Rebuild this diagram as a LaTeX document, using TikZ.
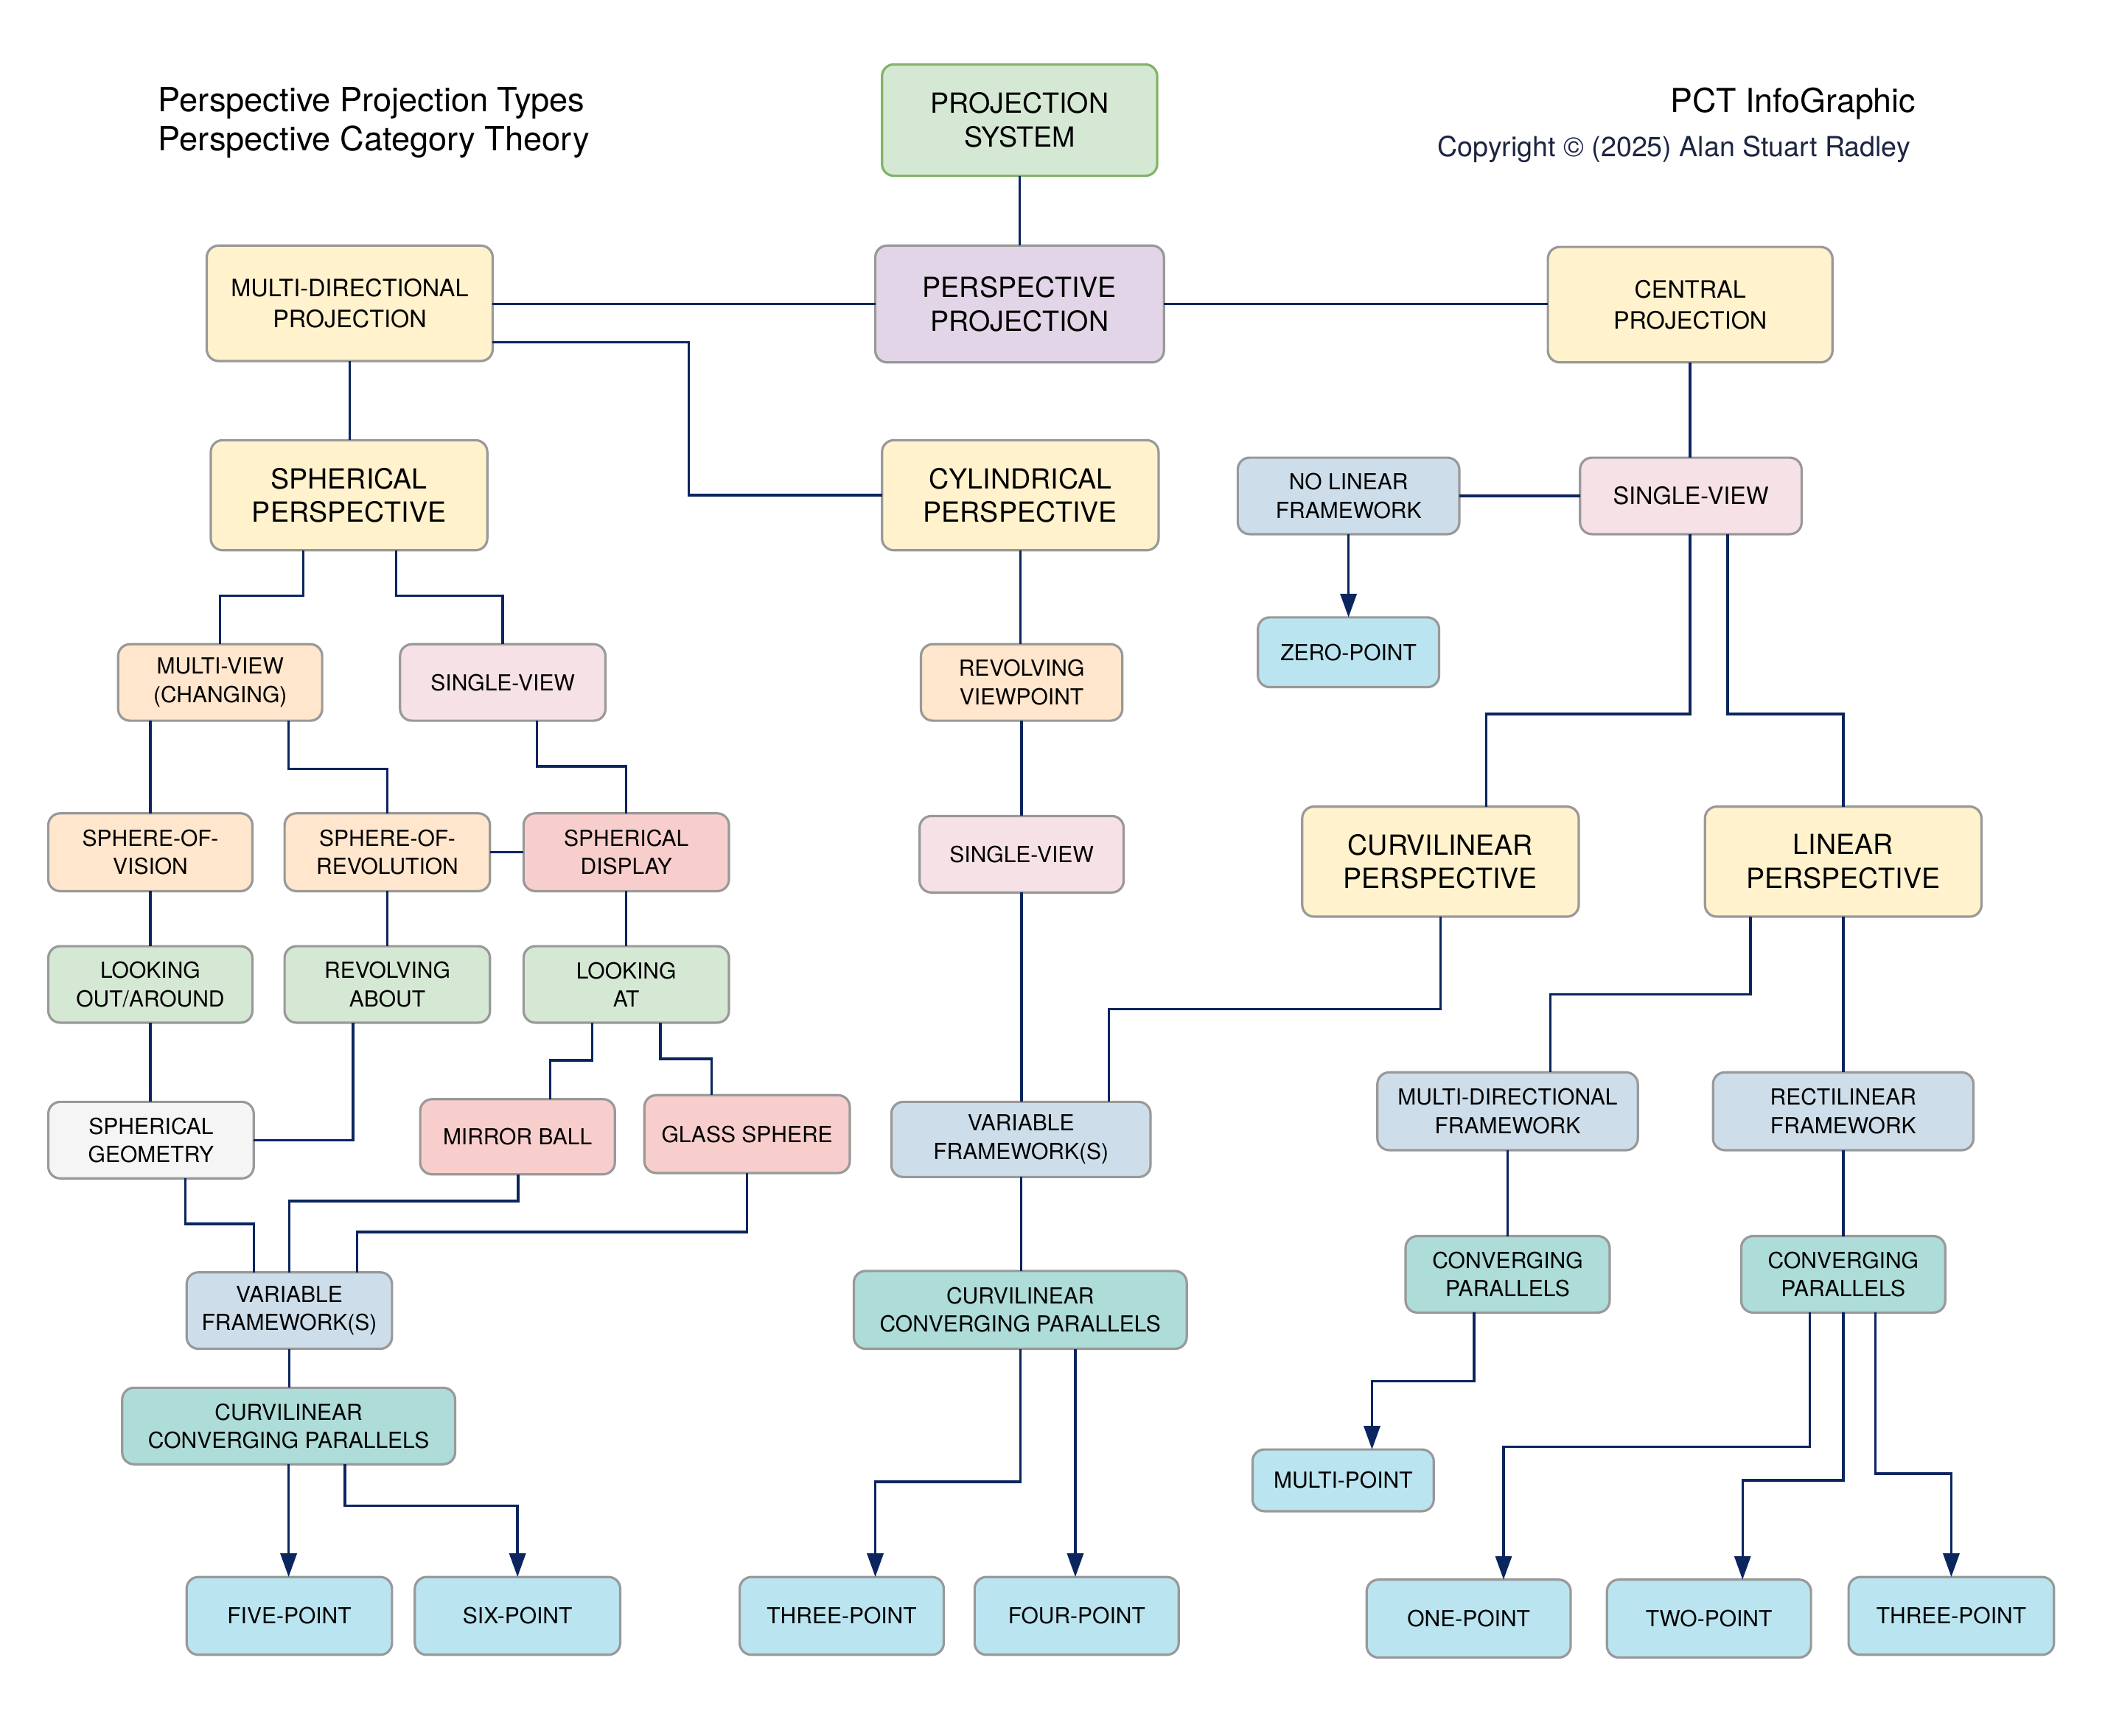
\documentclass[tikz,border=0pt]{standalone}
\usepackage{fontspec}
\setmainfont{TeX Gyre Heros}
\usetikzlibrary{arrows.meta}
\definecolor{cYel}{HTML}{FFF2CC}
\definecolor{cPch}{HTML}{FFE6CC}
\definecolor{cGrn}{HTML}{D5E8D4}
\definecolor{cPur}{HTML}{E1D5E7}
\definecolor{cBgr}{HTML}{CDDEEA}
\definecolor{cLpk}{HTML}{F6E1E6}
\definecolor{cPnk}{HTML}{F8CECC}
\definecolor{cGry}{HTML}{F5F5F5}
\definecolor{cTea}{HTML}{ADDCD9}
\definecolor{cLbl}{HTML}{BAE4F0}
\definecolor{cBord}{HTML}{999999}
\definecolor{cGbord}{HTML}{82B366}
\definecolor{cNavy}{HTML}{0B255F}
\definecolor{cTxt}{HTML}{1C2541}
\newcommand\bx[7]{\node[box,#6,minimum width={(#4-#2)*0.45536pt},minimum height={(#5-#3)*0.45536pt}] (#1) at ({(#2+#4)/2},{(#3+#5)/2}) {#7};}
\begin{document}
\begin{tikzpicture}[x=0.45536pt,y=-0.45536pt,
  box/.style={draw=cBord,line width=0.8pt,rounded corners=4pt,inner sep=0pt,outer sep=0pt,align=center,text=black},
  szS/.style={font=\fontsize{7.5}{9.6}\selectfont},
  szM/.style={font=\fontsize{8.1}{10.5}\selectfont},
  szL/.style={font=\fontsize{9.4}{11.4}\selectfont},
  fYel/.style={fill=cYel},
  fPch/.style={fill=cPch,szS},
  fGrn/.style={fill=cGrn,szS},
  fPur/.style={fill=cPur},
  fBgr/.style={fill=cBgr,szS},
  fLpk/.style={fill=cLpk,szS},
  fPnk/.style={fill=cPnk,szS},
  fGry/.style={fill=cGry,szS},
  fTea/.style={fill=cTea,szS},
  fLbl/.style={fill=cLbl,szS},
  conn/.style={draw=cNavy,line width=0.85pt},
  arr/.style={conn,-{Triangle[length=8pt,width=5.5pt]}},
  ttl/.style={inner sep=0pt,outer sep=0pt}]
\useasboundingbox (0,0) rectangle (1568,1293);
% titles
\node[ttl,anchor=west,align=left,font=\fontsize{11.3}{13.2}\selectfont] (title) at (118,91.5) {Perspective Projection Types\\Perspective Category Theory};
\node[ttl,anchor=east,font=\fontsize{11.2}{13}\selectfont] (pct) at (1427,77) {PCT InfoGraphic};
\node[ttl,anchor=east,text=cTxt,font=\fontsize{9.4}{11}\selectfont] (copy) at (1423,111) {Copyright © (2025) Alan Stuart Radley};
% nodes
\bx{ps}{657}{48}{862}{131}{fill=cGrn,draw=cGbord,szL}{PROJECTION\\SYSTEM}
\bx{pp}{652}{183}{867}{270}{fPur,szL}{PERSPECTIVE\\PROJECTION}
\bx{mdp}{154}{183}{367}{269}{fYel,szM}{MULTI-DIRECTIONAL\\PROJECTION}
\bx{cp}{1153}{184}{1365}{270}{fYel,szM}{CENTRAL\\PROJECTION}
\bx{sph}{157}{328}{363}{410}{fYel,szL}{SPHERICAL\\PERSPECTIVE}
\bx{cyl}{657}{328}{863}{410}{fYel,szL}{CYLINDRICAL\\PERSPECTIVE}
\bx{nlf}{922}{341}{1087}{398}{fBgr}{NO LINEAR\\FRAMEWORK}
\bx{svr}{1177}{341}{1342}{398}{fLpk,szM}{SINGLE-VIEW}
\bx{zp}{937}{460}{1072}{512}{fLbl}{ZERO-POINT}
\bx{mv}{88}{480}{240}{537}{fPch}{MULTI-VIEW\\(CHANGING)}
\bx{svs}{298}{480}{451}{537}{fLpk}{SINGLE-VIEW}
\bx{rvp}{686}{480}{836}{537}{fPch}{REVOLVING\\VIEWPOINT}
\bx{sov}{36}{606}{188}{664}{fPch}{SPHERE-OF-\\VISION}
\bx{sor}{212}{606}{365}{664}{fPch}{SPHERE-OF-\\REVOLUTION}
\bx{sd}{390}{606}{543}{664}{fPnk}{SPHERICAL\\DISPLAY}
\bx{svc}{685}{608}{837}{665}{fLpk}{SINGLE-VIEW}
\bx{cvp}{970}{601}{1176}{683}{fYel,szL}{CURVILINEAR\\PERSPECTIVE}
\bx{lp}{1270}{601}{1476}{683}{fYel,szL}{LINEAR\\PERSPECTIVE}
\bx{lo}{36}{705}{188}{762}{fGrn}{LOOKING\\OUT/AROUND}
\bx{ra}{212}{705}{365}{762}{fGrn}{REVOLVING\\ABOUT}
\bx{la}{390}{705}{543}{762}{fGrn}{LOOKING\\AT}
\bx{sg}{36}{821}{189}{878}{fGry}{SPHERICAL\\GEOMETRY}
\bx{mb}{313}{819}{458}{875}{fPnk}{MIRROR BALL}
\bx{gs}{480}{816}{633}{874}{fPnk}{GLASS SPHERE}
\bx{vfc}{664}{821}{857}{877}{fBgr}{VARIABLE\\FRAMEWORK(S)}
\bx{mdf}{1026}{799}{1220}{857}{fBgr}{MULTI-DIRECTIONAL\\FRAMEWORK}
\bx{rf}{1276}{799}{1470}{857}{fBgr}{RECTILINEAR\\FRAMEWORK}
\bx{vfl}{139}{948}{292}{1005}{fBgr}{VARIABLE\\FRAMEWORK(S)}
\bx{ccc}{636}{947}{884}{1005}{fTea}{CURVILINEAR\\CONVERGING PARALLELS}
\bx{cpm}{1047}{921}{1199}{978}{fTea}{CONVERGING\\PARALLELS}
\bx{cpr}{1297}{921}{1449}{978}{fTea}{CONVERGING\\PARALLELS}
\bx{ccl}{91}{1034}{339}{1091}{fTea}{CURVILINEAR\\CONVERGING PARALLELS}
\bx{mp}{933}{1080}{1068}{1126}{fLbl}{MULTI-POINT}
\bx{fp5}{139}{1175}{292}{1233}{fLbl}{FIVE-POINT}
\bx{sp6}{309}{1175}{462}{1233}{fLbl}{SIX-POINT}
\bx{tp3c}{551}{1175}{703}{1233}{fLbl}{THREE-POINT}
\bx{fp4}{726}{1175}{878}{1233}{fLbl}{FOUR-POINT}
\bx{op1}{1018}{1177}{1170}{1235}{fLbl}{ONE-POINT}
\bx{tp2}{1197}{1177}{1349}{1235}{fLbl}{TWO-POINT}
\bx{tp3r}{1377}{1175}{1530}{1233}{fLbl}{THREE-POINT}
% connectors
\draw[conn] (ps.south) -- (pp.north);
\draw[conn] (pp.west) -- (pp.west -| mdp.east);
\draw[conn] (pp.east) -- (pp.east -| cp.west);
\draw[conn] (mdp.south) -- (mdp.south |- sph.north);
\draw[conn] (mdp.east |- 0,255) -- (513,255) -- (513,0 |- cyl.west) -- (cyl.west);
\draw[conn] (cp.south) -- (cp.south |- svr.north);
\draw[conn] (svr.west) -- (svr.west -| nlf.east);
\draw[arr] (nlf.south) -- (zp.north);
\draw[conn] (1259,0 |- svr.south) -- (1259,532) -- (1107,532) -- (1107,0 |- cvp.north);
\draw[conn] (1287,0 |- svr.south) -- (1287,532) -| (lp.north);
\draw[conn] (226,0 |- sph.south) -- (226,444) -| (mv.north);
\draw[conn] (295,0 |- sph.south) -- (295,444) -| (svs.north);
\draw[conn] (cyl.south) -- (cyl.south |- rvp.north);
\draw[conn] (rvp.south) -- (rvp.south |- svc.north);
\draw[conn] (svc.south) -- (svc.south |- vfc.north);
\draw[conn] (cvp.south) -- (1073,752) -- (826,752) -- (826,0 |- vfc.north);
\draw[conn] (1304,0 |- lp.south) -- (1304,741) -- (1155,741) -- (1155,0 |- mdf.north);
\draw[conn] (lp.south) -- (lp.south |- rf.north);
\draw[conn] (mdf.south) -- (mdf.south |- cpm.north);
\draw[conn] (rf.south) -- (rf.south |- cpr.north);
\draw[arr] (1098,0 |- cpm.south) -- (1098,1029) -- (1022,1029) -- (1022,0 |- mp.north);
\draw[arr] (1348,0 |- cpr.south) -- (1348,1078) -- (1120,1078) -- (1120,0 |- op1.north);
\draw[arr] (cpr.south) -- (cpr.south |- 0,1103) -- (1298,1103) -- (1298,0 |- tp2.north);
\draw[arr] (1397,0 |- cpr.south) -- (1397,1098) -| (tp3r.north);
\draw[conn] (112,0 |- mv.south) -- (sov.north);
\draw[conn] (215,0 |- mv.south) -- (215,573) -| (sor.north);
\draw[conn] (400,0 |- svs.south) -- (400,571) -| (sd.north);
\draw[conn] (sor.east) -- (sor.east -| sd.west);
\draw[conn] (sov.south) -- (sov.south |- lo.north);
\draw[conn] (sor.south) -- (sor.south |- ra.north);
\draw[conn] (sd.south) -- (sd.south |- la.north);
\draw[conn] (lo.south) -- (lo.south |- sg.north);
\draw[conn] (263,0 |- ra.south) |- (sg.east);
\draw[conn] (441,0 |- la.south) -- (441,790) -- (410,790) -- (410,0 |- mb.north);
\draw[conn] (492,0 |- la.south) -- (492,789) -- (530,789) -- (530,0 |- gs.north);
\draw[conn] (138,0 |- sg.south) -- (138,912) -- (189,912) -- (189,0 |- vfl.north);
\draw[conn] (386,0 |- mb.south) -- (386,895) -| (vfl.north);
\draw[conn] (gs.south) -- (gs.south |- 0,918) -- (266,918) -- (266,0 |- vfl.north);
\draw[conn] (vfl.south) -- (vfl.south |- ccl.north);
\draw[arr] (ccl.south) -- (ccl.south |- fp5.north);
\draw[arr] (257,0 |- ccl.south) -- (257,1122) -| (sp6.north);
\draw[conn] (vfc.south) -- (vfc.south |- ccc.north);
\draw[arr] (ccc.south) -- (ccc.south |- 0,1104) -- (652,1104) -- (652,0 |- tp3c.north);
\draw[arr] (801,0 |- ccc.south) -- (801,0 |- fp4.north);
\end{tikzpicture}
\end{document}
